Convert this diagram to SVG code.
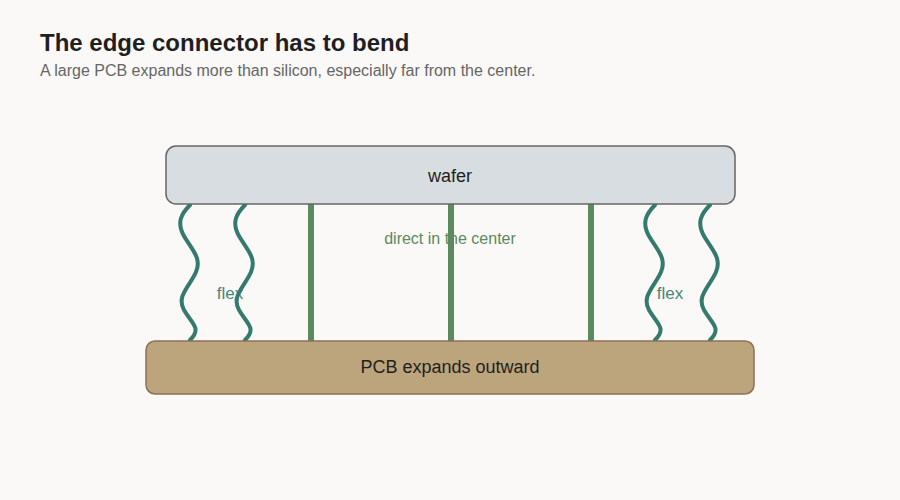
<svg xmlns="http://www.w3.org/2000/svg" width="900" height="500" viewBox="0 0 900 500">
<style>
text{font-family:"Liberation Sans",Arial,sans-serif}
.flex{fill:none;stroke:#357a6e;stroke-width:4;stroke-linecap:round}
.post{stroke:#5a8a5e;stroke-width:6}
</style>
<rect width="900" height="500" fill="#faf9f7"/>
<text x="40" y="51" font-size="24" font-weight="bold" fill="#1f1f1f">The edge connector has to bend</text>
<text x="40" y="76" font-size="16" fill="#666">A large PCB expands more than silicon, especially far from the center.</text>
<g id="connectors">
<path class="flex" d="M190,205 C182,213 176,222 184,236 S202,258 196,272 S176,296 184,310 S202,328 190,340"/>
<path class="flex" d="M245,205 C237,213 231,222 239,236 S257,258 251,272 S231,296 239,310 S257,328 245,340"/>
<path class="flex" d="M655,205 C647,213 641,222 649,236 S667,258 661,272 S641,296 649,310 S667,328 655,340"/>
<path class="flex" d="M710,205 C702,213 696,222 704,236 S722,258 716,272 S696,296 704,310 S722,328 710,340"/>
<line class="post" x1="311" y1="204" x2="311" y2="341"/>
<line class="post" x1="451" y1="204" x2="451" y2="341"/>
<line class="post" x1="591" y1="204" x2="591" y2="341"/>
</g>
<text x="450" y="244" font-size="16" fill="#5a8a5e" text-anchor="middle">direct in the center</text>
<text x="230" y="299" font-size="17" fill="#357a6e" text-anchor="middle" opacity="0.9">flex</text>
<text x="670" y="299" font-size="17" fill="#357a6e" text-anchor="middle" opacity="0.9">flex</text>
<g id="wafer">
<rect x="166" y="146" width="569" height="58" rx="10" fill="#d8dde2" stroke="#666" stroke-width="1.5"/>
<text x="450" y="182" font-size="18" fill="#1f1f1f" text-anchor="middle">wafer</text>
</g>
<g id="pcb">
<rect x="146" y="341" width="608" height="53" rx="9" fill="#bca47c" stroke="#8a7258" stroke-width="1.5"/>
<text x="450" y="373" font-size="18" fill="#1f1f1f" text-anchor="middle">PCB expands outward</text>
</g>
</svg>
